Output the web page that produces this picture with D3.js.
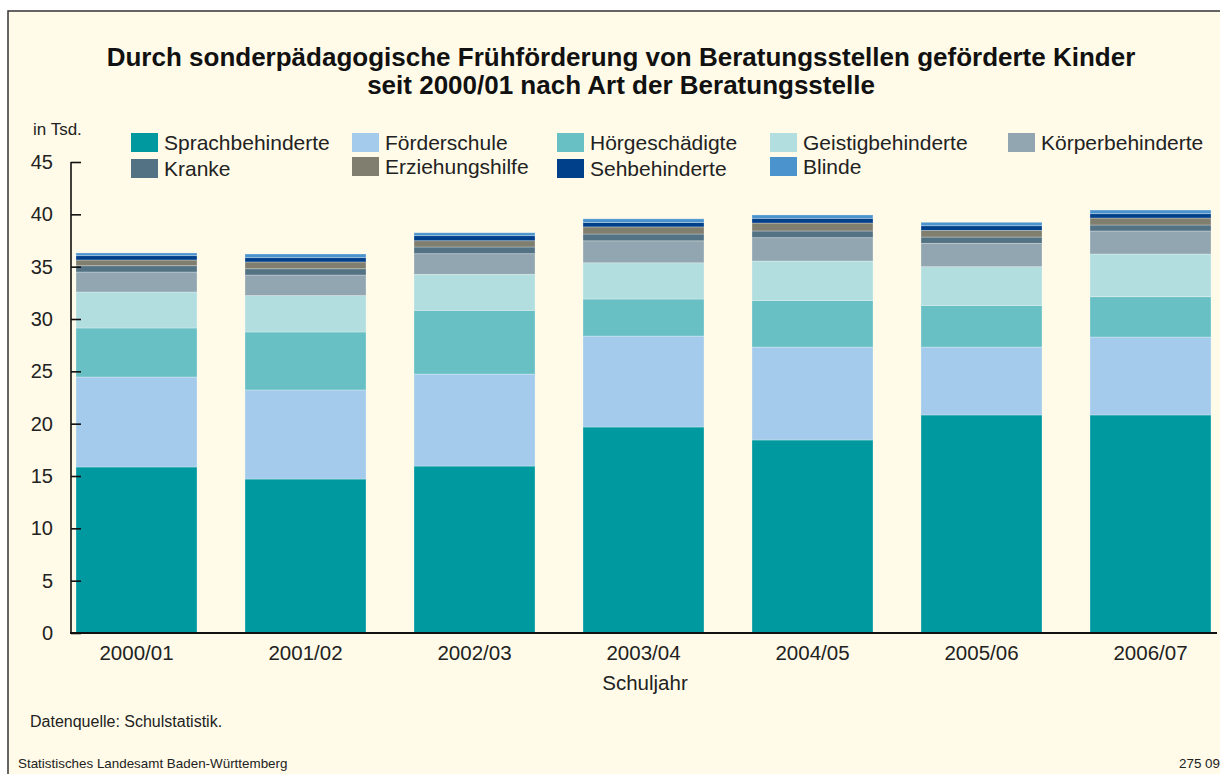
<!DOCTYPE html>
<html>
<head>
<meta charset="utf-8">
<script src="https://cdn.jsdelivr.net/npm/d3@7"></script>
<style>
  body { margin: 0; background: #fff; }
  svg { display: block; font-family: "Liberation Sans", Arial, sans-serif; }
</style>
</head>
<body>
<svg id="chart" width="1220" height="774"></svg>
<script>
// Schuljahre
const years = ['2000/01', '2001/02', '2002/03', '2003/04', '2004/05', '2005/06', '2006/07'];

// Art der Beratungsstelle (stack order bottom -> top)
const types = ['Sprachbehinderte', 'Förderschule', 'Hörgeschädigte', 'Geistigbehinderte',
  'Körperbehinderte', 'Kranke', 'Erziehungshilfe', 'Sehbehinderte', 'Blinde'];

// values in Tsd., one array per type
const sprach   = [15.86, 14.71, 15.95, 19.68, 18.44, 20.83, 20.83];
const foerder  = [8.60, 8.51, 8.79, 8.69, 8.88, 6.49, 7.45];
const hoer     = [4.68, 5.54, 6.09, 3.54, 4.46, 3.98, 3.85];
const geistig  = [3.44, 3.48, 3.44, 3.46, 3.76, 3.70, 4.08];
const koerper  = [1.91, 1.96, 1.97, 2.10, 2.23, 2.23, 2.20];
const kranke   = [0.60, 0.60, 0.64, 0.65, 0.64, 0.60, 0.57];
const erz      = [0.55, 0.65, 0.60, 0.68, 0.76, 0.64, 0.67];
const seh      = [0.41, 0.41, 0.48, 0.42, 0.45, 0.44, 0.41];
const blinde   = [0.26, 0.35, 0.28, 0.35, 0.32, 0.33, 0.35];

const yTicks = [0, 5, 10, 15, 20, 25, 30, 35, 40, 45];

const colours = ['#00999f', '#a4cbeb', '#69c0c4', '#b2dedf', '#91a6b0',
  '#537384', '#807f6f', '#003f8a', '#4b93cc'];

const series = [sprach, foerder, hoer, geistig, koerper, kranke, erz, seh, blinde];
const table = years.map((y, i) => {
  const row = { year: y };
  types.forEach((t, k) => { row[t] = series[k][i]; });
  return row;
});

const svg = d3.select('#chart');

// frame
svg.append('rect')
  .attr('x', 8).attr('y', 11)
  .attr('width', 1230).attr('height', 780)
  .attr('fill', '#fffbe8')
  .attr('stroke', '#333')
  .attr('stroke-width', 1.5);

// Title
const title = svg.append('text')
  .attr('text-anchor', 'middle')
  .attr('font-weight', 'bold')
  .attr('font-size', 26)
  .attr('fill', '#111');
title.append('tspan').attr('x', 621).attr('y', 66)
  .text('Durch sonderpädagogische Frühförderung von Beratungsstellen geförderte Kinder');
title.append('tspan').attr('x', 621).attr('y', 94)
  .text('seit 2000/01 nach Art der Beratungsstelle');

const x = d3.scaleBand()
  .domain(years)
  .range([70, 1217])
  .paddingInner(0.284)
  .paddingOuter(0.0355);

const y = d3.scaleLinear()
  .domain([0, 45])
  .range([633, 162]);

const stack = d3.stack().keys(types);
const stacked = stack(table);

const colour = d3.scaleOrdinal().domain(types).range(colours);

svg.append('g')
  .selectAll('g')
  .data(stacked)
  .join('g')
  .attr('fill', d => colour(d.key))
  .selectAll('rect')
  .data(d => d)
  .join('rect')
  .attr('x', d => x(d.data.year))
  .attr('width', x.bandwidth())
  .attr('y', d => y(d[1]))
  .attr('height', d => y(d[0]) - y(d[1]))
  .attr('stroke', 'rgba(255,255,255,0.35)')
  .attr('stroke-width', 0.8);

// y axis with inward ticks
const yAxis = svg.append('g')
  .attr('transform', 'translate(71,0)')
  .call(d3.axisRight(y).tickValues(yTicks).tickSize(10).tickFormat(''));
yAxis.select('.domain').remove();
yAxis.selectAll('.tick line').attr('stroke', '#111').attr('stroke-width', 1.6);
yAxis.append('line')
  .attr('x1', 0).attr('x2', 0)
  .attr('y1', y(45)).attr('y2', y(0))
  .attr('stroke', '#111').attr('stroke-width', 1.6);

svg.append('g')
  .selectAll('text')
  .data(yTicks)
  .join('text')
  .attr('x', 53)
  .attr('y', d => y(d) + 7)
  .attr('text-anchor', 'end')
  .attr('font-size', 20)
  .attr('fill', '#222')
  .text(d => d);

// baseline
svg.append('line')
  .attr('x1', 70).attr('x2', 1217)
  .attr('y1', y(0)).attr('y2', y(0))
  .attr('stroke', '#111').attr('stroke-width', 2);

// x labels
svg.append('g')
  .selectAll('text')
  .data(years)
  .join('text')
  .attr('x', d => x(d) + x.bandwidth() / 2)
  .attr('y', 660)
  .attr('text-anchor', 'middle')
  .attr('font-size', 20.5)
  .attr('fill', '#222')
  .text(d => d);

svg.append('text')
  .attr('x', 645).attr('y', 690)
  .attr('text-anchor', 'middle')
  .attr('font-size', 20.5)
  .attr('fill', '#222')
  .text('Schuljahr');

svg.append('text')
  .attr('x', 33).attr('y', 135)
  .attr('font-size', 17)
  .attr('fill', '#222')
  .text('in Tsd.');

// Legend
const legendPos = [
  [131, 133], [352, 133], [557, 133], [770, 133], [1008, 133],
  [131, 159], [352, 157], [557, 159], [770, 157]
];
const legend = svg.append('g')
  .selectAll('g')
  .data(types)
  .join('g')
  .attr('transform', (d, i) => `translate(${legendPos[i][0]}, ${legendPos[i][1]})`);
legend.append('rect')
  .attr('width', 27).attr('height', 19)
  .attr('fill', d => colour(d));
legend.append('text')
  .attr('x', 33).attr('y', 17)
  .attr('font-size', 21)
  .attr('fill', '#222')
  .text(d => d);

// footer
svg.append('text')
  .attr('x', 30).attr('y', 727)
  .attr('font-size', 16)
  .attr('fill', '#222')
  .text('Datenquelle: Schulstatistik.');
svg.append('text')
  .attr('x', 18).attr('y', 768)
  .attr('font-size', 13.4)
  .attr('fill', '#222')
  .text('Statistisches Landesamt Baden-Württemberg');
svg.append('text')
  .attr('x', 1220).attr('y', 768)
  .attr('text-anchor', 'end')
  .attr('font-size', 13.4)
  .attr('fill', '#222')
  .text('275 09');
</script>
</body>
</html>
